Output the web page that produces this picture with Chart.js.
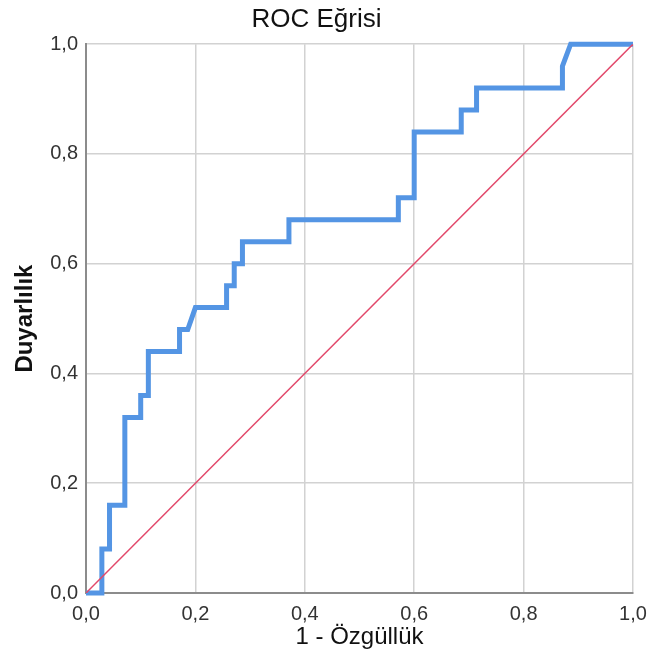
<!DOCTYPE html>
<html>
<head>
<meta charset="utf-8">
<title>ROC Eğrisi</title>
<script src="https://cdn.jsdelivr.net/npm/chart.js@4/dist/chart.umd.min.js"></script>
<style>
  html, body { margin: 0; padding: 0; background: #fff; }
  #roc { display: block; }
</style>
</head>
<body>
<canvas id="roc" width="650" height="658"></canvas>
<script>
// ROC curve: 1 - specificity (x) and sensitivity (y)
const fprValues = [0, 0.029, 0.029, 0.043, 0.043, 0.071, 0.071, 0.1, 0.1, 0.114, 0.114,
  0.171, 0.171, 0.186, 0.2, 0.257, 0.257, 0.271, 0.271, 0.286, 0.286, 0.371, 0.371,
  0.571, 0.571, 0.6, 0.6, 0.686, 0.686, 0.714, 0.714, 0.871, 0.871, 0.886, 1];
const tprValues = [0, 0, 0.08, 0.08, 0.16, 0.16, 0.32, 0.32, 0.36, 0.36, 0.44,
  0.44, 0.48, 0.48, 0.52, 0.52, 0.56, 0.56, 0.6, 0.6, 0.64, 0.64, 0.68,
  0.68, 0.72, 0.72, 0.84, 0.84, 0.88, 0.88, 0.92, 0.92, 0.96, 1, 1];

// reference line
const diagX = [0, 1];
const diagY = [0, 1];

const tickValues = [0, 0.2, 0.4, 0.6, 0.8, 1];

const plainFont = "'Liberation Sans', Arial, Helvetica, sans-serif";

const gridColor = "#d2d2d2";
const axisColor = "#8c8c8c";

const toPoints = (xs, ys) => xs.map((x, i) => ({ x: x, y: ys[i] }));
const fmt = (v) => v.toFixed(1).replace(".", ",");

function initRocChart() {
  const canvas = document.getElementById("roc");
  if (!canvas || typeof Chart === "undefined") return;

  new Chart(canvas, {
    type: "scatter",
    data: {
      datasets: [
        {
          label: "Referans",
          data: toPoints(diagX, diagY),
          showLine: true,
          borderColor: "#e2486a",
          borderWidth: 1.5,
          pointRadius: 0,
          order: 0,
        },
        {
          label: "ROC",
          data: toPoints(fprValues, tprValues),
          showLine: true,
          borderColor: "#5495e4",
          borderWidth: 5,
          borderJoinStyle: "miter",
          pointRadius: 0,
          tension: 0,
          clip: false,
          order: 1,
        },
      ],
    },
    options: {
      responsive: false,
      animation: false,
      layout: { padding: { top: 0, right: 17, bottom: 0, left: 0 } },
      plugins: {
        legend: { display: false },
        tooltip: { enabled: false },
        title: {
          display: true,
          text: "ROC Eğrisi",
          color: "#111",
          font: { family: plainFont, size: 26, weight: "normal", lineHeight: 1.2 },
          padding: { top: 4, bottom: 9 },
        },
      },
      scales: {
        x: {
          type: "linear",
          min: 0,
          max: 1,
          afterBuildTicks: (scale) => { scale.ticks = tickValues.map((v) => ({ value: v })); },
          afterFit: (scale) => {
            scale.height = 65;
            // let the layout padding alone decide the right edge
            scale.paddingRight = 0;
          },
          ticks: {
            color: "#333",
            padding: 5,
            font: { family: plainFont, size: 20 },
            callback: (v) => fmt(v),
            maxRotation: 0,
          },
          grid: { color: gridColor, lineWidth: 1.5, tickLength: 4, tickColor: "rgba(0,0,0,0)" },
          border: { color: axisColor, width: 2 },
          title: {
            display: true,
            text: "1 - Özgüllük",
            color: "#111",
            font: { family: plainFont, size: 24, lineHeight: 1.2 },
            padding: { top: 0, bottom: 6 },
          },
        },
        y: {
          type: "linear",
          min: 0,
          max: 1,
          afterBuildTicks: (scale) => { scale.ticks = tickValues.map((v) => ({ value: v })); },
          afterFit: (scale) => { scale.width = 86; },
          ticks: {
            color: "#333",
            padding: 4,
            font: { family: plainFont, size: 20 },
            callback: (v) => fmt(v),
          },
          grid: { color: gridColor, lineWidth: 1.5, tickLength: 4, tickColor: "rgba(0,0,0,0)" },
          border: { color: axisColor, width: 2 },
          title: {
            display: true,
            text: "Duyarlılık",
            color: "#111",
            font: { family: plainFont, size: 24, weight: "bold", lineHeight: 1.2 },
            padding: { top: 11, bottom: 0 },
          },
        },
      },
    },
  });
}

window.addEventListener("DOMContentLoaded", initRocChart);
</script>
</body>
</html>
